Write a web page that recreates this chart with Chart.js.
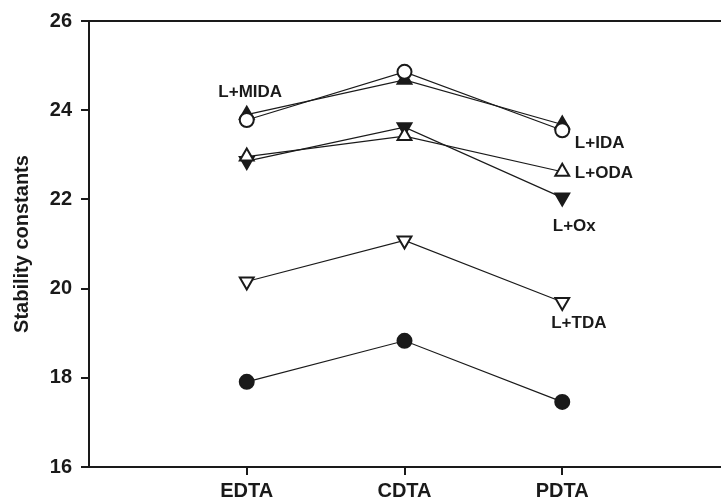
<!DOCTYPE html>
<html>
<head>
<meta charset="utf-8">
<script src="https://cdn.jsdelivr.net/npm/chart.js@4"></script>
<style>
  html, body { margin: 0; padding: 0; background: #fff; overflow: hidden; }
  #wrap { width: 730px; height: 504px; }
</style>
</head>
<body>
<div id="wrap"><canvas id="chart" width="730" height="504"></canvas></div>
<script>
// categories on the x axis (placed at 1, 2, 3)
const categories = ["EDTA", "CDTA", "PDTA"];
const yTicks = [16, 18, 20, 22, 24, 26];

// series values, one per category
const ligandIDA  = [23.78, 24.86, 23.55];  // open circle
const ligandMIDA = [23.90, 24.68, 23.68];  // filled triangle up
const ligandODA  = [22.96, 23.42, 22.62];  // open triangle up
const ligandOx   = [22.86, 23.62, 22.04];  // filled triangle down
const ligandTDA  = [20.16, 21.08, 19.70];  // open triangle down
const ligandOnly = [17.91, 18.83, 17.46];  // filled circle

// text labels next to the lines (data units)
const labelText = ["L+MIDA", "L+IDA", "L+ODA", "L+Ox", "L+TDA"];
const labelX    = [0.82, 3.08, 3.08, 2.94, 2.93];
const labelY    = [24.41, 23.26, 22.59, 21.40, 19.23];

const ink = "#1a1a1a";
const FONT = "'Liberation Sans', Arial, sans-serif";

function pts(vals) {
  return vals.map((v, i) => ({ x: i + 1, y: v }));
}

function series(name, vals, style, filled, rotation) {
  const tri = style === "triangle";
  return {
    label: name,
    data: pts(vals),
    borderColor: ink,
    borderWidth: 1.2,
    pointStyle: style,
    pointRotation: rotation || 0,
    pointRadius: tri ? 8 : 7,
    pointBorderWidth: 2,
    pointBorderColor: ink,
    pointBackgroundColor: filled ? ink : "#fff",
    showLine: true,
    fill: false,
    tension: 0
  };
}

const textLabels = {
  id: "textLabels",
  afterDatasetsDraw(chart) {
    const ctx = chart.ctx;
    const xs = chart.scales.x, ys = chart.scales.y;
    ctx.save();
    ctx.fillStyle = ink;
    ctx.font = "bold 17px " + FONT;
    ctx.textAlign = "left";
    ctx.textBaseline = "middle";
    labelText.forEach((t, i) => {
      ctx.fillText(t, xs.getPixelForValue(labelX[i]), ys.getPixelForValue(labelY[i]));
    });
    ctx.restore();
  }
};

new Chart(document.getElementById("chart").getContext("2d"), {
  type: "scatter",
  data: {
    datasets: [
      series("L+IDA", ligandIDA, "circle", false),
      series("L+MIDA", ligandMIDA, "triangle", true),
      series("L+ODA", ligandODA, "triangle", false),
      series("L+Ox", ligandOx, "triangle", true, 180),
      series("L+TDA", ligandTDA, "triangle", false, 180),
      series("L", ligandOnly, "circle", true)
    ]
  },
  options: {
    responsive: false,
    devicePixelRatio: 1,
    animation: false,
    layout: { padding: 0 },
    plugins: { legend: { display: false }, tooltip: { enabled: false } },
    scales: {
      x: {
        type: "linear",
        position: "bottom",
        min: 0,
        max: 4,
        afterBuildTicks: (axis) => { axis.ticks = categories.map((c, i) => ({ value: i + 1 })); },
        afterFit: (axis) => { axis.height = 37; },
        ticks: {
          callback: (v) => categories[v - 1] || "",
          color: ink,
          font: { family: FONT, size: 20, weight: "bold" },
          padding: 4,
          maxRotation: 0
        },
        grid: { drawOnChartArea: false, drawTicks: true, tickLength: 8, color: ink, lineWidth: 2 },
        border: { display: true, color: ink, width: 2 }
      },
      xTop: {
        type: "linear",
        position: "top",
        min: 0,
        max: 4,
        afterFit: (axis) => { axis.height = 21; },
        ticks: { display: false },
        grid: { display: false },
        border: { display: true, color: ink, width: 2 }
      },
      y: {
        min: 16,
        max: 26,
        afterBuildTicks: (axis) => { axis.ticks = yTicks.map((v) => ({ value: v })); },
        afterFit: (axis) => { axis.width = 89; },
        ticks: {
          color: ink,
          font: { family: FONT, size: 20, weight: "bold" },
          padding: 9
        },
        title: {
          display: true,
          text: "Stability constants",
          color: ink,
          font: { family: FONT, size: 20, weight: "bold" },
          padding: { top: 10, bottom: 0 }
        },
        grid: { drawOnChartArea: false, drawTicks: true, tickLength: 8, color: ink, lineWidth: 2 },
        border: { display: true, color: ink, width: 2 }
      }
    }
  },
  plugins: [textLabels]
});
</script>
</body>
</html>
